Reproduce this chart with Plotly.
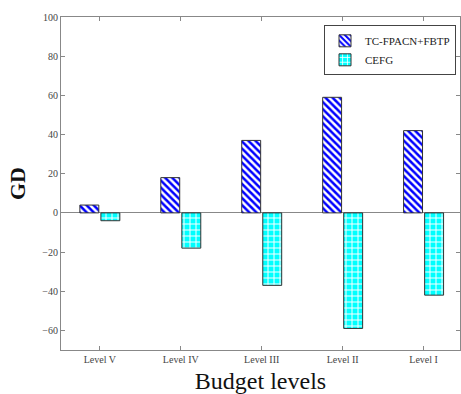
import plotly.graph_objects as go

categories = ["Level V", "Level IV", "Level III", "Level II", "Level I"]
tc_values = [4, 18, 37, 59, 42]
cefg_values = [-4, -18, -37, -59, -42]
y_ticks = [-60, -40, -20, 0, 20, 40, 60, 80, 100]

x_idx = list(range(len(categories)))
font_family = "Liberation Serif, Times New Roman, serif"

fig = go.Figure()
fig.add_trace(go.Bar(
    x=x_idx, y=tc_values, name="TC-FPACN+FBTP",
    marker=dict(color="white", line=dict(color="#333333", width=1),
                pattern=dict(shape="\\", fgcolor="#0000ff", bgcolor="white",
                             fillmode="replace", size=5, solidity=0.5)),
))
fig.add_trace(go.Bar(
    x=x_idx, y=cefg_values, name="CEFG",
    marker=dict(color="#00ffff", line=dict(color="#333333", width=1),
                pattern=dict(shape="+", fgcolor="white", bgcolor="#00ffff",
                             fillmode="replace", size=6, solidity=0.3)),
))

fig.update_layout(
    width=461, height=394,
    margin=dict(l=61, r=1, t=17, b=44),
    paper_bgcolor="white", plot_bgcolor="white",
    barmode="group", bargap=0.48, bargroupgap=0.1,
    font=dict(family=font_family, color="#333333", size=10),
    showlegend=True,
    legend=dict(x=0.99, y=0.975, xanchor="right", yanchor="top",
                bgcolor="white", bordercolor="#444444", borderwidth=1,
                font=dict(family=font_family, size=11, color="#222222"),
                tracegroupgap=0, itemwidth=30),
)
fig.update_xaxes(
    range=[-0.48, 4.45], tickvals=x_idx, ticktext=categories,
    showline=True, linecolor="#888888", linewidth=1, mirror="ticks",
    ticks="inside", ticklen=4, tickcolor="#888888",
    showgrid=False, zeroline=False,
    tickfont=dict(size=10, color="#444444"),
    title=dict(text="Budget levels", font=dict(size=24, color="#111111"), standoff=8),
)
fig.update_yaxes(
    range=[-70, 100], tickvals=y_ticks,
    showline=True, linecolor="#888888", linewidth=1, mirror="ticks",
    ticks="inside", ticklen=4, tickcolor="#888888",
    showgrid=False, zeroline=True, zerolinecolor="#888888", zerolinewidth=1,
    tickfont=dict(size=10, color="#444444"),
    title=dict(text="<b>GD</b>", font=dict(size=22, color="#111111"), standoff=10),
)

fig.write_html("out.html")
